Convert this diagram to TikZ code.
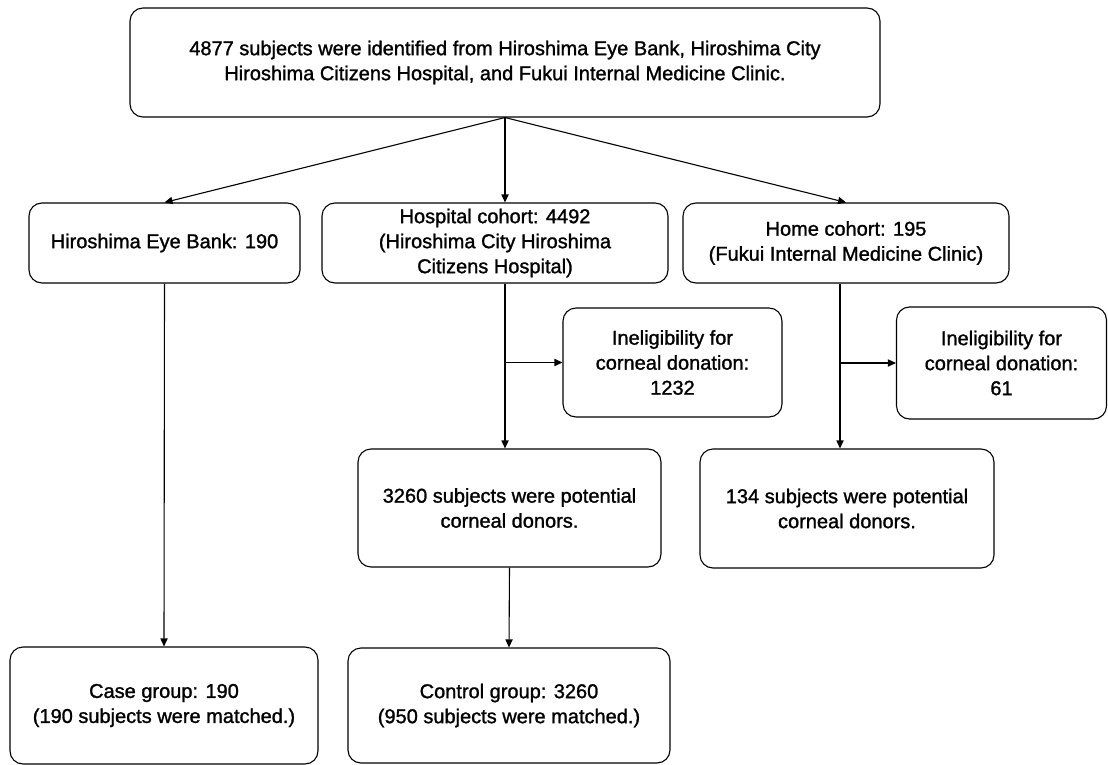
\documentclass[tikz,border=0pt]{standalone}
\usepackage{fontspec}
\setmainfont{Liberation Sans}[BoldFont={Liberation Sans}, BoldFeatures={FakeBold=1.3}]
\usetikzlibrary{arrows.meta}

\begin{document}
\begin{tikzpicture}[x=0.5pt, y=-0.5pt,
    box/.style={draw, rounded corners=6.5pt, align=center, inner sep=0pt, line width=0.55pt,
        font=\fontsize{10pt}{12.5pt}\selectfont\bfseries},
    conn/.style={line width=0.55pt, -{Triangle[length=4pt, width=3.6pt]}}]
    \useasboundingbox (0,0) rectangle (1108,765);

    % first row
    \node[box, minimum width=375pt, minimum height=54.5pt] (top) at (505,62.5)
        {4877 subjects were identified from Hiroshima Eye Bank, Hiroshima City\\
         Hiroshima Citizens Hospital, and Fukui Internal Medicine Clinic.};

    % cohorts
    \node[box, minimum width=135.5pt, minimum height=40pt] (eyebank) at (164.5,243)
        {Hiroshima Eye Bank: 190};
    \node[box, minimum width=173pt, minimum height=40pt] (hosp) at (495,243)
        {Hospital cohort: 4492\\(Hiroshima City Hiroshima\\Citizens Hospital)};
    \node[box, minimum width=163pt, minimum height=40pt] (home) at (846,243)
        {Home cohort: 195\\(Fukui Internal Medicine Clinic)};

    % excluded
    \node[box, minimum width=109.5pt, minimum height=54.5pt] (inelA) at (672.5,362.5)
        {Ineligibility for\\corneal donation:\\1232};
    \node[box, minimum width=105pt, minimum height=56pt] (inelB) at (1001.5,363)
        {Ineligibility for\\corneal donation:\\61};

    % potential donors
    \node[box, minimum width=151.5pt, minimum height=59pt] (pot3260) at (509.5,508)
        {3260 subjects were potential\\corneal donors.};
    \node[box, minimum width=147pt, minimum height=59.5pt] (pot134) at (847,508.5)
        {134 subjects were potential\\corneal donors.};

    % groups
    \node[box, minimum width=154pt, minimum height=58.5pt] (casegr) at (164,705.5)
        {Case group: 190\\(190 subjects were matched.)};
    \node[box, minimum width=161pt, minimum height=57.5pt] (ctrlgr) at (509,705.5)
        {Control group: 3260\\(950 subjects were matched.)};

    \coordinate (homeout) at ([xshift=-3pt]home.south);

    \draw[conn] (top.south) -- (eyebank.north);
    \draw[conn] (top.south) -- (top.south |- hosp.north);
    \draw[conn] (top.south) -- (home.north);

    \draw[conn] (eyebank.south) -- (casegr.north);

    \draw[conn] (top.south |- hosp.south) -- (top.south |- pot3260.north);
    \draw[conn] (top.south |- inelA.west) -- (inelA.west);
    \draw[conn] (pot3260.south) -- (ctrlgr.north);

    \draw[conn] (homeout) -- (homeout |- pot134.north);
    \draw[conn] (homeout |- inelB.west) -- (inelB.west);
\end{tikzpicture}
\end{document}
